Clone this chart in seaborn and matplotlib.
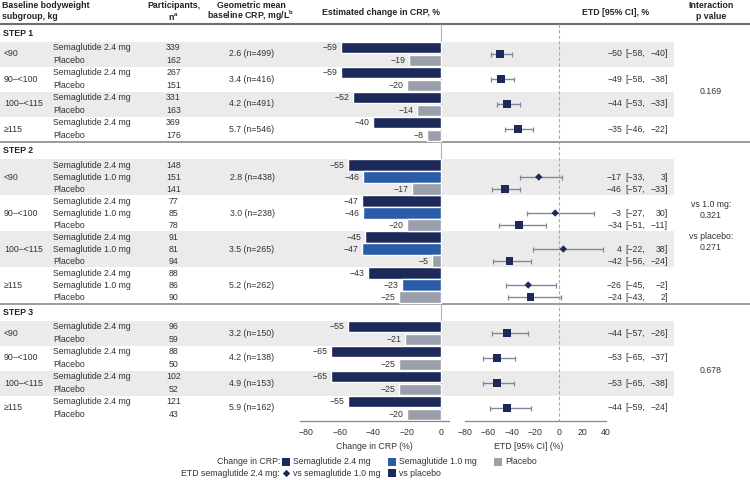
import numpy as np
import pandas as pd
import matplotlib
matplotlib.use("Agg")
import matplotlib.pyplot as plt
import seaborn as sns

# ------------------------------------------------------------------ data
subgroups = ["<90", "90–<100", "100–<115", "≥115"]
studies = ["STEP 1", "STEP 2", "STEP 3"]

s1_n_sema24 = [339, 267, 331, 369]
s1_n_pbo = [162, 151, 163, 176]
s1_crp = [2.6, 3.4, 4.2, 5.7]
s1_crp_n = [499, 416, 491, 546]
s1_chg_sema24 = [-59, -59, -52, -40]
s1_chg_pbo = [-19, -20, -14, -8]
s1_etd_pbo = [-50, -49, -44, -35]
s1_etd_pbo_lo = [-58, -58, -53, -46]
s1_etd_pbo_hi = [-40, -38, -33, -22]
s1_p = ["0.169"]

s2_n_sema24 = [148, 77, 91, 88]
s2_n_sema10 = [151, 85, 81, 86]
s2_n_pbo = [141, 78, 94, 90]
s2_crp = [2.8, 3.0, 3.5, 5.2]
s2_crp_n = [438, 238, 265, 262]
s2_chg_sema24 = [-55, -47, -45, -43]
s2_chg_sema10 = [-46, -46, -47, -23]
s2_chg_pbo = [-17, -20, -5, -25]
s2_etd_10 = [-17, -3, 4, -26]
s2_etd_10_lo = [-33, -27, -22, -45]
s2_etd_10_hi = [3, 30, 38, -2]
s2_etd_pbo = [-46, -34, -42, -24]
s2_etd_pbo_lo = [-57, -51, -56, -43]
s2_etd_pbo_hi = [-33, -11, -24, 2]
s2_p = ["vs 1.0 mg:", "0.321", "vs placebo:", "0.271"]

s3_n_sema24 = [96, 88, 102, 121]
s3_n_pbo = [59, 50, 52, 43]
s3_crp = [3.2, 4.2, 4.9, 5.9]
s3_crp_n = [150, 138, 153, 162]
s3_chg_sema24 = [-55, -65, -65, -55]
s3_chg_pbo = [-21, -25, -25, -20]
s3_etd_pbo = [-44, -53, -53, -44]
s3_etd_pbo_lo = [-57, -65, -65, -59]
s3_etd_pbo_hi = [-26, -37, -38, -24]
s3_p = ["0.678"]

arm_24, arm_10, arm_pbo = "Semaglutide 2.4 mg", "Semaglutide 1.0 mg", "Placebo"
cmp_10, cmp_pbo = "vs semaglutide 1.0 mg", "vs placebo"
bar_ticks = [-80, -60, -40, -20, 0]
etd_ticks = [-80, -60, -40, -20, 0, 20, 40]

study_arms = {
    "STEP 1": [(arm_24, s1_n_sema24, s1_chg_sema24), (arm_pbo, s1_n_pbo, s1_chg_pbo)],
    "STEP 2": [(arm_24, s2_n_sema24, s2_chg_sema24), (arm_10, s2_n_sema10, s2_chg_sema10),
               (arm_pbo, s2_n_pbo, s2_chg_pbo)],
    "STEP 3": [(arm_24, s3_n_sema24, s3_chg_sema24), (arm_pbo, s3_n_pbo, s3_chg_pbo)],
}
study_crp = {"STEP 1": (s1_crp, s1_crp_n), "STEP 2": (s2_crp, s2_crp_n), "STEP 3": (s3_crp, s3_crp_n)}
# (comparison, arm-row slot, estimate, lower, upper)
study_etd = {
    "STEP 1": [(cmp_pbo, 0.5, s1_etd_pbo, s1_etd_pbo_lo, s1_etd_pbo_hi)],
    "STEP 2": [(cmp_10, 1, s2_etd_10, s2_etd_10_lo, s2_etd_10_hi),
               (cmp_pbo, 2, s2_etd_pbo, s2_etd_pbo_lo, s2_etd_pbo_hi)],
    "STEP 3": [(cmp_pbo, 0.5, s3_etd_pbo, s3_etd_pbo_lo, s3_etd_pbo_hi)],
}
study_p = {"STEP 1": s1_p, "STEP 2": s2_p, "STEP 3": s3_p}

# ------------------------------------------------------------------ style
NAVY, BLUE, GREY = "#1d2959", "#2a5ca8", "#9a9fab"
BAND = "#ebebeb"
ERR = "#7f87a5"
TXT = "#333333"
FS = 6.3
palette = {arm_24: NAVY, arm_10: BLUE, arm_pbo: GREY}

sns.set_style("white")
plt.rcParams["font.family"] = ["Liberation Sans", "DejaVu Sans"]
plt.rcParams["mathtext.fontset"] = "custom"
plt.rcParams["mathtext.rm"] = "Liberation Sans"
plt.rcParams["mathtext.bf"] = "Liberation Sans:bold"


def fmt(v):
    return f"{v:g}".replace("-", "−")


# ------------------------------------------------------------------ layout (pixel units, top = 0)
W, H = 750, 480
HEADER, SEC = 24.0, 17.5
BOTTOM = 420.5

fig = plt.figure(figsize=(7.5, 4.8), dpi=100)
bg = fig.add_axes([0, 0, 1, 1], zorder=0)
bg.set_xlim(0, W)
bg.set_ylim(H, 0)
bg.axis("off")

bar_rows, etd_rows, sep_lines = [], [], []
y = HEADER
for study in studies:
    arms = study_arms[study]
    bg.text(3, y + SEC / 2 + 0.5, study, fontsize=FS, fontweight="bold", color="#222", va="center")
    y += SEC
    pitch = 12.5 if len(arms) == 2 else 12.0
    sec_top = y
    crp, crp_n = study_crp[study]
    for g, sg in enumerate(subgroups):
        gh = pitch * len(arms)
        gc = y + gh / 2
        if g % 2 == 0:
            bg.axhspan(y, y + gh, xmin=0, xmax=674 / W, color=BAND, lw=0, zorder=0)
        bg.text(4, gc, sg, fontsize=FS, color=TXT, va="center")
        bg.text(252, gc, f"{crp[g]:.1f} (n={crp_n[g]})", fontsize=FS, color=TXT, va="center", ha="center")
        for i, (arm, nvals, chg) in enumerate(arms):
            ay = y + (i + 0.5) * pitch
            bg.text(53, ay, arm, fontsize=FS, color=TXT, va="center")
            bg.text(173.5, ay, str(nvals[g]), fontsize=FS, color=TXT, va="center", ha="center")
            bar_rows.append({"y": ay, "change": chg[g], "arm": arm})
        for comp, slot, est, lo, hi in study_etd[study]:
            ey = y + (slot + 0.5) * pitch if isinstance(slot, int) else y + slot * gh
            etd_rows.append({"y": ey, "est": est[g], "lo": lo[g], "hi": hi[g], "comp": comp})
            bg.text(622, ey, fmt(est[g]), fontsize=FS, color=TXT, va="center", ha="right")
            bg.text(645, ey, "[" + fmt(lo[g]) + ",", fontsize=FS, color=TXT, va="center", ha="right")
            bg.text(668, ey, fmt(hi[g]) + "]", fontsize=FS, color=TXT, va="center", ha="right")
        y += gh
    sec_bot = y
    ptxt = study_p[study]
    centre = (sec_top + sec_bot) / 2
    if len(ptxt) == 1:
        bg.text(711, centre, ptxt[0], fontsize=FS, color=TXT, ha="center", va="center")
    else:
        offs = [-26.5, -15.7, 5.2, 16.2]
        for k, t in enumerate(ptxt):
            bg.text(711, centre + offs[k], t, fontsize=FS, color=TXT, ha="center", va="center")
    if study != studies[-1]:
        sep_lines.append(y)

# header
bg.axhline(HEADER - 0.5, color="#6e6e6e", lw=1.5, zorder=3)
for sy in sep_lines:
    bg.axhline(sy + 0.5, color="#8a8a8a", lw=1.2, zorder=3)
hkw = dict(fontsize=FS, fontweight="bold", color="#222", va="center")
header_lines = [
    (2, "left", ["Baseline bodyweight", "subgroup, kg"]),
    (173.5, "center", ["Participants,", "n$^{\\mathbf{a}}$"]),
    (251, "center", ["Geometric mean", "baseline CRP, mg/L$^{\\mathbf{b}}$"]),
    (711, "center", ["Interaction", "p value"]),
]
for hx, ha, lines in header_lines:
    for k, t in enumerate(lines):
        bg.text(hx, 6.0 + 10.2 * k, t, ha=ha, **hkw)
bg.text(381, 12.3, "Estimated change in CRP, %", ha="center", **hkw)
bg.text(616, 12.3, "ETD [95% CI], %", ha="center", **hkw)

bar_df = pd.DataFrame(bar_rows)
etd_df = pd.DataFrame(etd_rows)

# ------------------------------------------------------------------ bar axes
ax_pos_y = (1 - BOTTOM / H, BOTTOM / H)
axb = fig.add_axes([300 / W, ax_pos_y[0], 149 / W, ax_pos_y[1]], zorder=1)
axb.patch.set_alpha(0)
sns.barplot(data=bar_df, x="change", y="y", hue="arm", hue_order=[arm_24, arm_10, arm_pbo],
            palette=palette, orient="h", native_scale=True, dodge=False, width=0.93,
            saturation=1, errorbar=None, legend=False, ax=axb)
for cont in axb.containers:
    axb.bar_label(cont, labels=[fmt(v) for v in cont.datavalues], padding=2.5,
                  fontsize=FS, color=TXT)
axb.vlines(0, HEADER, BOTTOM, colors="#b0b0b0", lw=0.8, zorder=0.5)
axb.set_xlim(-83.6, 5.0)
axb.set_ylim(BOTTOM, 0)

# ------------------------------------------------------------------ ETD axes
axe = fig.add_axes([465 / W, ax_pos_y[0], 140.5 / W, ax_pos_y[1]], zorder=1)
axe.patch.set_alpha(0)
axe.vlines(0, HEADER, BOTTOM, colors="#aaaaaa", lw=0.8, linestyles=(0, (3, 2)), zorder=0.5)
axe.errorbar(etd_df["est"], etd_df["y"],
             xerr=[etd_df["est"] - etd_df["lo"], etd_df["hi"] - etd_df["est"]],
             fmt="none", ecolor=ERR, elinewidth=1.0, capsize=1.8, capthick=0.9, zorder=2)
sns.scatterplot(data=etd_df, x="est", y="y", style="comp", size="comp",
                markers={cmp_10: "D", cmp_pbo: "s"}, sizes={cmp_10: 14, cmp_pbo: 32},
                color=NAVY, linewidth=0, legend=False, zorder=3, ax=axe)
axe.set_xlim(-80, 40)
axe.set_ylim(BOTTOM, 0)

for ax, ticks, label, lx in [(axb, bar_ticks, "Change in CRP (%)", 0.5),
                             (axe, etd_ticks, "ETD [95% CI] (%)", 0.45)]:
    ax.set_xticks(ticks)
    ax.set_yticks([])
    ax.set_ylabel("")
    ax.set_xlabel(label, fontsize=FS, color=TXT, labelpad=2)
    ax.xaxis.set_label_coords(lx, -0.05)
    ax.tick_params(axis="x", length=3, width=0.8, color="#888888", pad=2.5,
                   labelsize=FS, labelcolor=TXT)
    for s in ["top", "right", "left"]:
        ax.spines[s].set_visible(False)
    ax.spines["bottom"].set_color("#888888")
    ax.spines["bottom"].set_linewidth(0.9)

# ------------------------------------------------------------------ legend
leg_rows = [
    ("Change in CRP:", [(arm_24, "s", NAVY, 34), (arm_10, "s", BLUE, 34), (arm_pbo, "s", GREY, 34)]),
    ("ETD semaglutide 2.4 mg:", [(cmp_10, "D", NAVY, 14), (cmp_pbo, "s", NAVY, 34)]),
]
for r, (title, items) in enumerate(leg_rows):
    ly = 461.7 + 11.6 * r
    bg.text(280, ly, title, fontsize=FS, color=TXT, ha="right", va="center")
    for k, (lab, mk, col, sz) in enumerate(items):
        mx = 286 + 106 * k
        bg.scatter([mx], [ly], marker=mk, s=sz, color=col, linewidths=0)
        bg.text(mx + 7, ly, lab, fontsize=FS, color=TXT, ha="left", va="center")

fig.savefig("out.png", dpi=100)
